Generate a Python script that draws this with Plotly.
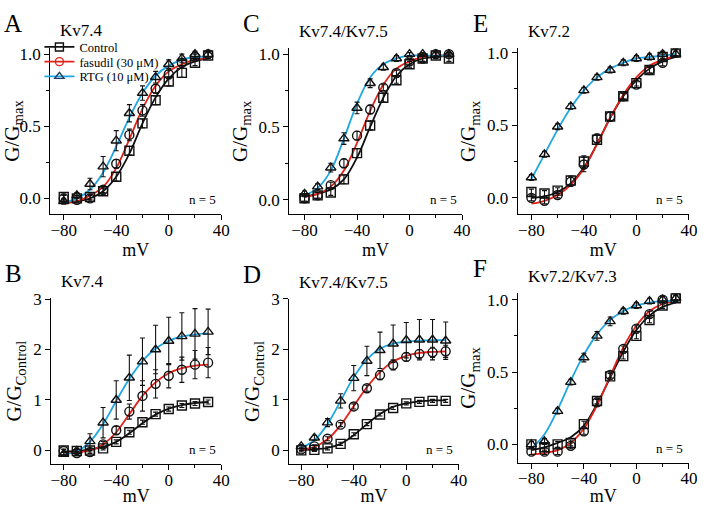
import plotly.graph_objects as go

# ---------------- data ----------------
voltages = [-80, -70, -60, -50, -40, -30, -20, -10, 0, 10, 20, 30]
series_names = ["Control", "fasudil (30 μM)", "RTG (10 μM)"]
panel_letters = ["A", "B", "C", "D", "E", "F"]
panel_titles = ["Kv7.4", "Kv7.4", "Kv7.4/Kv7.5", "Kv7.4/Kv7.5", "Kv7.2", "Kv7.2/Kv7.3"]
y_titles = ["G/G<sub>max</sub>", "G/G<sub>Control</sub>", "G/G<sub>max</sub>",
            "G/G<sub>Control</sub>", "G/G<sub>max</sub>", "G/G<sub>max</sub>"]
n_label = "n = 5"
x_title = "mV"

# Panel A  (Kv7.4, G/Gmax)
a_ctrl = [0.01, 0.00, 0.01, 0.05, 0.15, 0.33, 0.52, 0.68, 0.81, 0.87, 0.94, 0.99]
a_ctrl_err = [0.02, 0.02, 0.02, 0.02, 0.03, 0.03, 0.03, 0.03, 0.03, 0.03, 0.02, 0.02]
a_fas = [0.00, -0.01, 0.00, 0.06, 0.24, 0.44, 0.61, 0.76, 0.86, 0.94, 0.98, 1.00]
a_fas_err = [0.02, 0.02, 0.02, 0.02, 0.03, 0.04, 0.04, 0.03, 0.03, 0.02, 0.02, 0.02]
a_rtg = [-0.02, 0.02, 0.10, 0.22, 0.40, 0.59, 0.73, 0.84, 0.93, 0.97, 1.00, 1.00]
a_rtg_err = [0.02, 0.02, 0.04, 0.07, 0.07, 0.06, 0.05, 0.04, 0.03, 0.03, 0.02, 0.02]
a_fit_ctrl = [-0.03, -0.02, 0.00, 0.05, 0.15, 0.31, 0.52, 0.70, 0.83, 0.91, 0.95, 0.97]
a_fit_fas = [-0.03, -0.02, 0.02, 0.08, 0.21, 0.41, 0.62, 0.78, 0.88, 0.93, 0.96, 0.97]
a_fit_rtg = [-0.03, 0.00, 0.06, 0.18, 0.36, 0.56, 0.73, 0.85, 0.92, 0.96, 0.98, 0.98]

# Panel B  (Kv7.4, G/GControl)
b_ctrl = [0.00, -0.01, 0.00, 0.04, 0.17, 0.36, 0.56, 0.72, 0.82, 0.89, 0.93, 0.96]
b_ctrl_err = [0.03, 0.03, 0.03, 0.03, 0.04, 0.04, 0.04, 0.04, 0.04, 0.04, 0.04, 0.04]
b_fas = [-0.01, -0.05, -0.03, 0.12, 0.40, 0.77, 1.08, 1.32, 1.48, 1.60, 1.70, 1.74]
b_fas_err = [0.03, 0.03, 0.03, 0.06, 0.08, 0.15, 0.30, 0.28, 0.24, 0.25, 0.28, 0.30]
b_rtg = [-0.07, -0.01, 0.18, 0.55, 1.00, 1.44, 1.76, 2.00, 2.17, 2.26, 2.31, 2.35]
b_rtg_err = [0.03, 0.03, 0.15, 0.30, 0.38, 0.45, 0.47, 0.48, 0.47, 0.47, 0.50, 0.45]
b_fit_ctrl = [-0.02, -0.01, 0.02, 0.07, 0.17, 0.34, 0.54, 0.71, 0.83, 0.90, 0.94, 0.96]
b_fit_fas = [-0.05, -0.04, 0.00, 0.12, 0.36, 0.72, 1.08, 1.35, 1.53, 1.63, 1.68, 1.70]
b_fit_rtg = [-0.08, -0.02, 0.17, 0.52, 0.98, 1.42, 1.77, 2.02, 2.17, 2.26, 2.30, 2.32]

# Panel C  (Kv7.4/Kv7.5, G/Gmax)
c_ctrl = [0.01, 0.03, 0.05, 0.14, 0.32, 0.51, 0.70, 0.82, 0.93, 0.97, 0.99, 0.97]
c_ctrl_err = [0.02, 0.02, 0.02, 0.03, 0.03, 0.03, 0.03, 0.02, 0.02, 0.02, 0.02, 0.02]
c_fas = [0.01, 0.03, 0.10, 0.25, 0.44, 0.62, 0.77, 0.87, 0.95, 0.97, 1.00, 1.00]
c_fas_err = [0.02, 0.02, 0.02, 0.03, 0.03, 0.03, 0.02, 0.02, 0.02, 0.02, 0.02, 0.02]
c_rtg = [0.04, 0.09, 0.22, 0.42, 0.63, 0.80, 0.91, 0.97, 1.00, 1.00, 1.00, 1.00]
c_rtg_err = [0.02, 0.02, 0.03, 0.04, 0.04, 0.03, 0.02, 0.02, 0.01, 0.01, 0.01, 0.01]
c_fit_ctrl = [0.02, 0.04, 0.07, 0.14, 0.29, 0.50, 0.70, 0.85, 0.93, 0.97, 0.98, 0.99]
c_fit_fas = [0.02, 0.04, 0.09, 0.20, 0.39, 0.61, 0.79, 0.90, 0.95, 0.98, 0.99, 0.99]
c_fit_rtg = [0.03, 0.08, 0.20, 0.42, 0.66, 0.84, 0.93, 0.97, 0.99, 0.99, 0.99, 0.99]

# Panel D  (Kv7.4/Kv7.5, G/GControl)
d_ctrl = [0.00, 0.01, 0.04, 0.13, 0.32, 0.52, 0.71, 0.84, 0.93, 0.96, 0.98, 0.98]
d_ctrl_err = [0.03, 0.03, 0.03, 0.03, 0.03, 0.03, 0.03, 0.03, 0.03, 0.03, 0.03, 0.03]
d_fas = [0.02, 0.08, 0.23, 0.51, 0.87, 1.23, 1.49, 1.69, 1.85, 1.91, 1.94, 1.96]
d_fas_err = [0.02, 0.03, 0.04, 0.04, 0.05, 0.06, 0.09, 0.10, 0.08, 0.08, 0.10, 0.12]
d_rtg = [0.08, 0.25, 0.55, 0.98, 1.43, 1.77, 1.98, 2.11, 2.18, 2.19, 2.19, 2.17]
d_rtg_err = [0.03, 0.05, 0.08, 0.14, 0.25, 0.29, 0.36, 0.37, 0.35, 0.40, 0.40, 0.37]
d_fit_ctrl = [0.01, 0.02, 0.05, 0.13, 0.30, 0.52, 0.72, 0.86, 0.93, 0.97, 0.99, 0.99]
d_fit_fas = [0.02, 0.07, 0.22, 0.50, 0.88, 1.25, 1.55, 1.76, 1.87, 1.93, 1.95, 1.96]
d_fit_rtg = [0.05, 0.20, 0.52, 0.98, 1.45, 1.80, 2.01, 2.11, 2.15, 2.17, 2.18, 2.18]

# Panel E  (Kv7.2, G/Gmax)
e_ctrl = [0.04, 0.03, 0.05, 0.12, 0.25, 0.40, 0.56, 0.70, 0.79, 0.88, 0.97, 1.00]
e_ctrl_err = [0.02, 0.02, 0.02, 0.03, 0.04, 0.03, 0.03, 0.02, 0.02, 0.02, 0.02, 0.02]
e_fas = [0.00, -0.02, 0.02, 0.11, 0.23, 0.41, 0.56, 0.70, 0.78, 0.88, 0.93, 1.00]
e_fas_err = [0.02, 0.02, 0.02, 0.03, 0.05, 0.03, 0.03, 0.02, 0.02, 0.02, 0.02, 0.02]
e_rtg = [0.14, 0.30, 0.49, 0.63, 0.74, 0.83, 0.88, 0.93, 0.96, 0.97, 0.99, 0.99]
e_rtg_err = [0.02, 0.02, 0.02, 0.02, 0.02, 0.02, 0.02, 0.02, 0.02, 0.02, 0.02, 0.02]
e_fit_ctrl = [0.00, 0.01, 0.04, 0.10, 0.21, 0.37, 0.55, 0.70, 0.81, 0.89, 0.94, 0.97]
e_fit_fas = [-0.04, -0.02, 0.02, 0.09, 0.20, 0.37, 0.55, 0.71, 0.83, 0.91, 0.95, 0.98]
e_fit_rtg = [0.13, 0.30, 0.47, 0.62, 0.74, 0.83, 0.89, 0.93, 0.96, 0.97, 0.98, 0.99]

# Panel F  (Kv7.2/Kv7.3, G/Gmax)
f_ctrl = [0.00, -0.02, 0.00, 0.01, 0.14, 0.30, 0.47, 0.61, 0.75, 0.86, 0.96, 1.01]
f_ctrl_err = [0.02, 0.02, 0.02, 0.02, 0.02, 0.02, 0.02, 0.02, 0.02, 0.02, 0.02, 0.02]
f_fas = [-0.05, -0.05, -0.05, -0.01, 0.09, 0.29, 0.48, 0.66, 0.80, 0.90, 1.00, 1.02]
f_fas_err = [0.02, 0.02, 0.02, 0.02, 0.02, 0.02, 0.02, 0.02, 0.02, 0.02, 0.02, 0.02]
f_rtg = [0.00, 0.02, 0.23, 0.43, 0.60, 0.75, 0.85, 0.92, 0.96, 0.99, 1.00, 1.01]
f_rtg_err = [0.02, 0.02, 0.02, 0.02, 0.03, 0.03, 0.03, 0.02, 0.02, 0.02, 0.02, 0.02]
f_fit_ctrl = [-0.04, -0.02, 0.01, 0.05, 0.13, 0.28, 0.46, 0.64, 0.79, 0.89, 0.95, 0.98]
f_fit_fas = [-0.07, -0.06, -0.04, 0.01, 0.11, 0.27, 0.47, 0.67, 0.82, 0.92, 0.97, 0.99]
f_fit_rtg = [-0.03, 0.07, 0.24, 0.44, 0.62, 0.76, 0.86, 0.92, 0.96, 0.98, 0.99, 0.99]

# ---------------- styling / layout ----------------
FONT = "Liberation Serif"
COLORS = ["#111111", "#e2231a", "#1ea7e1"]
SYMBOLS = ["square-open", "circle-open", "triangle-up-open"]
LEGEND_MARKER_COLORS = ["#111111", "#e2231a", "#1b3d63"]

W, H = 709, 506
# pixel boxes: (x0, x1, ytop, ybottom)
boxes = [
    (49.0, 222.7, 39.3, 209.0),
    (50.0, 222.7, 294.3, 463.3),
    (291.7, 467.3, 40.0, 209.0),
    (291.7, 464.0, 295.0, 463.3),
    (524.0, 697.7, 40.0, 209.0),
    (524.0, 697.7, 289.3, 462.0),
]
x_ranges = [[-90.3, 40], [-89.5, 40], [-91.7, 40], [-89.2, 40], [-90.3, 40], [-90.3, 40]]
y_ranges = [[-0.11, 1.045], [-0.27, 3.02], [-0.10, 1.04], [-0.27, 3.0], [-0.113, 1.03], [-0.127, 1.045]]
is_ratio = [False, True, False, True, False, False]
legend_rows_px = [39, 54, 69]   # vertical centres of the three legend rows

panels = [
    (a_ctrl, a_ctrl_err, a_fas, a_fas_err, a_rtg, a_rtg_err, a_fit_ctrl, a_fit_fas, a_fit_rtg),
    (b_ctrl, b_ctrl_err, b_fas, b_fas_err, b_rtg, b_rtg_err, b_fit_ctrl, b_fit_fas, b_fit_rtg),
    (c_ctrl, c_ctrl_err, c_fas, c_fas_err, c_rtg, c_rtg_err, c_fit_ctrl, c_fit_fas, c_fit_rtg),
    (d_ctrl, d_ctrl_err, d_fas, d_fas_err, d_rtg, d_rtg_err, d_fit_ctrl, d_fit_fas, d_fit_rtg),
    (e_ctrl, e_ctrl_err, e_fas, e_fas_err, e_rtg, e_rtg_err, e_fit_ctrl, e_fit_fas, e_fit_rtg),
    (f_ctrl, f_ctrl_err, f_fas, f_fas_err, f_rtg, f_rtg_err, f_fit_ctrl, f_fit_fas, f_fit_rtg),
]

fig = go.Figure()
layout = dict(
    width=W, height=H,
    margin=dict(l=0, r=0, t=0, b=0, pad=0),
    paper_bgcolor="white", plot_bgcolor="white",
    font=dict(family=FONT, color="black", size=16),
    showlegend=True,
)
legend_keys = ["legend", "legend2", "legend3"]
for key, ypx in zip(legend_keys, legend_rows_px):
    layout[key] = dict(
        x=38 / W, y=1 - ypx / H, xanchor="left", yanchor="middle",
        orientation="h", entrywidth=120, entrywidthmode="pixels",
        bgcolor="rgba(0,0,0,0)", borderwidth=0,
        font=dict(family=FONT, size=12.5, color="black"),
        itemwidth=30,
    )
annotations = []

for i, (pdata, box) in enumerate(zip(panels, boxes)):
    k = i + 1
    xa = "x" if k == 1 else f"x{k}"
    ya = "y" if k == 1 else f"y{k}"
    ctrl, ctrl_e, fas, fas_e, rtg, rtg_e, fc, ff, fr = pdata

    # fitted curves
    for fit, col in zip([fc, ff, fr], COLORS):
        fig.add_trace(go.Scatter(
            x=voltages, y=fit, mode="lines", line=dict(color=col, width=1.8, shape="spline", smoothing=1.0),
            xaxis=xa, yaxis=ya, showlegend=False, hoverinfo="skip"))
    # data points with error bars
    for vals, errs, sym in zip([ctrl, fas, rtg], [ctrl_e, fas_e, rtg_e], SYMBOLS):
        fig.add_trace(go.Scatter(
            x=voltages, y=vals, mode="markers",
            marker=dict(symbol=sym, size=9, color="#111111", line=dict(width=1.4, color="#111111")),
            error_y=dict(type="data", array=errs, visible=True, color="#111111", thickness=1.1, width=2.5),
            xaxis=xa, yaxis=ya, showlegend=False))

    x0, x1, yt, yb = box
    xkey = "xaxis" if k == 1 else f"xaxis{k}"
    ykey = "yaxis" if k == 1 else f"yaxis{k}"
    layout[xkey] = dict(
        domain=[x0 / W, x1 / W], anchor=ya, range=x_ranges[i],
        showline=True, linecolor="black", linewidth=1.2, mirror=False,
        showgrid=False, zeroline=False,
        ticks="outside", ticklen=5, tickwidth=1.2, tickcolor="black",
        tick0=-80, dtick=40, ticklabelstandoff=-5,
        minor=dict(ticks="outside", ticklen=3, tickwidth=1.2, tickcolor="black", tick0=-80, dtick=20, showgrid=False),
        tickfont=dict(family=FONT, size=17, color="black"),
        title=dict(text=x_title, font=dict(family=FONT, size=18, color="black"), standoff=0),
    )
    ydict = dict(
        domain=[1 - yb / H, 1 - yt / H], anchor=xa, range=y_ranges[i],
        showline=True, linecolor="black", linewidth=1.2,
        showgrid=False, zeroline=False,
        ticks="outside", ticklen=5, tickwidth=1.2, tickcolor="black",
        tickfont=dict(family=FONT, size=17, color="black"),
        title=dict(text=y_titles[i], font=dict(family=FONT, size=21, color="black"), standoff=5),
    )
    if is_ratio[i]:
        ydict.update(tick0=0, dtick=1, tickformat="d")
    else:
        ydict.update(tick0=0, dtick=0.5, tickformat=".1f",
                     minor=dict(ticks="outside", ticklen=3, tickwidth=1.2, tickcolor="black", tick0=0, dtick=0.25, showgrid=False))
    layout[ykey] = ydict

    # panel letter, title, n label
    annotations.append(dict(text=panel_letters[i], xref="paper", yref="paper",
                            x=(x0 - 38) / W, y=1 - (yt - 25) / H, xanchor="center", yanchor="middle",
                            showarrow=False, font=dict(family=FONT, size=25, color="black")))
    annotations.append(dict(text=panel_titles[i], xref="paper", yref="paper",
                            x=(x0 + 8) / W, y=1 - (yt - 17) / H, xanchor="left", yanchor="middle",
                            showarrow=False, font=dict(family=FONT, size=17, color="black")))
    annotations.append(dict(text=n_label, xref=f"{xa} domain", yref=f"{ya} domain",
                            x=0.98, y=0.03, xanchor="right", yanchor="bottom",
                            showarrow=False, font=dict(family=FONT, size=13, color="black")))

# legend entries (panel A), one legend row each
for name, col, sym, mcol, lkey in zip(series_names, COLORS, SYMBOLS, LEGEND_MARKER_COLORS, legend_keys):
    fig.add_trace(go.Scatter(
        x=[None], y=[None], mode="lines+markers", name=name, legend=lkey,
        line=dict(color=col, width=1.8),
        marker=dict(symbol=sym, size=8, color=mcol, line=dict(width=1.4, color=mcol)),
        xaxis="x", yaxis="y", showlegend=True))

layout["annotations"] = annotations
fig.update_layout(**layout)

post = "document.body.style.margin='0';document.body.style.overflow='hidden';"
fig.write_html("out.html", config={"displayModeBar": False}, post_script=post)
